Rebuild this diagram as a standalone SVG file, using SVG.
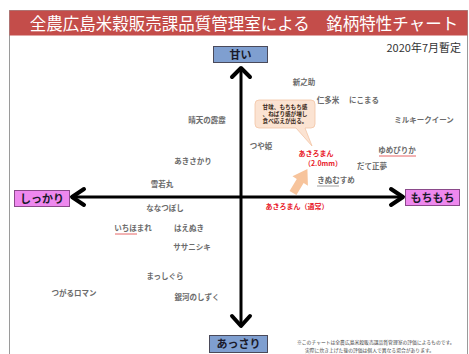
<svg xmlns="http://www.w3.org/2000/svg" width="469" height="354" viewBox="0 0 469 354">
<style>
.lbl{font-family:"Noto Sans CJK JP","Noto Sans",sans-serif;font-size:7.5px;fill:#6b6b6b;font-weight:bold;text-anchor:middle}
.red{font-family:"Noto Sans CJK JP","Noto Sans",sans-serif;font-size:7px;fill:#e8202a;font-weight:bold;text-anchor:middle}
.axt{font-family:"Noto Sans CJK JP","Noto Sans",sans-serif;font-size:11px;fill:#1a1a2a;font-weight:bold;text-anchor:middle}
.ax{stroke:#000;stroke-width:3;fill:none}
.ah{stroke:#000;stroke-width:4;fill:none;stroke-linecap:round;stroke-linejoin:round}
.blue{fill:#7f9fd0;stroke:#4a4a5a;stroke-width:1}
.pink{fill:#ee88ee;stroke:#8a4a8a;stroke-width:1}
.ul{stroke-width:0.8}
</style>
<rect x="0" y="0" width="469" height="354" fill="#fff"/>
<rect x="9.5" y="10.5" width="458" height="350" fill="#fff" stroke="#9a9a9a" stroke-width="1"/>
<g id="title">
<rect x="9.5" y="10.5" width="458" height="25" fill="#c44d4a"/>
<text x="244" y="29.5" font-family="'Noto Sans CJK JP','Noto Sans',sans-serif" font-size="16.5" fill="#fff" text-anchor="middle">全農広島米穀販売課品質管理室による　銘柄特性チャート</text>
</g>
<text id="date" x="461" y="52" font-family="'Noto Sans CJK JP','Noto Sans',sans-serif" font-size="11" fill="#333" text-anchor="end">2020年7月暫定</text>
<g id="connectors">
<line class="ax" x1="241" y1="69" x2="241" y2="325"/>
<line class="ax" x1="73" y1="197" x2="402" y2="197"/>
<polyline class="ah" points="232,77 241,68 250,77"/>
<polyline class="ah" points="232,316 241,326 250,316"/>
<polyline class="ah" points="84,189 72,197 84,205"/>
<polyline class="ah" points="391,189 403,197 391,205"/>
</g>
<g id="amai"><rect class="blue" x="213.5" y="46.5" width="54" height="16"/><text class="axt" x="240.5" y="58.5">甘い</text></g>
<g id="assari"><rect class="blue" x="209.5" y="335.5" width="58" height="17"/><text class="axt" x="238.5" y="348">あっさり</text></g>
<g id="shikkari"><rect class="pink" x="14.5" y="190.5" width="55" height="16"/><text class="axt" x="42" y="202.5">しっかり</text></g>
<g id="mochimochi"><rect class="pink" x="405.5" y="189.5" width="54" height="16"/><text class="axt" x="432.5" y="201.5">もちもち</text></g>
<g id="bubble">
<path d="M259,100 H311 Q315,100 315,104 V124 Q315,128 311,128 H305 L312,146 L296,128 H259 Q255,128 255,124 V104 Q255,100 259,100 Z" fill="#fbe3d2" stroke="#f2c4a4" stroke-width="0.8"/>
<g font-family="'Noto Sans CJK JP','Noto Sans',sans-serif" font-size="5.6" font-weight="bold" fill="#3a2a20" text-anchor="middle">
<text x="285" y="109">甘味、もちもち感</text>
<text x="285" y="116">、ねばり感が増し</text>
<text x="285" y="123">食べ応えが出る。</text>
</g>
</g>
<g id="arrow-orange"><polygon points="-4,0 4,0 4,-14 9,-14 0,-28 -9,-14 -4,-14" fill="#f7c49c" transform="translate(293,193) rotate(31)"/></g>
<g id="n-shinnosuke"><text class="lbl" x="304" y="85">新之助</text></g>
<g id="n-nitamai"><text class="lbl" x="328" y="103">仁多米</text></g>
<g id="n-nikomaru"><text class="lbl" x="364" y="103">にこまる</text></g>
<g id="n-milky"><text class="lbl" x="424" y="123">ミルキークイーン</text></g>
<g id="n-seiten"><text class="lbl" x="207" y="123">晴天の霹靂</text></g>
<g id="n-tsuyahime"><text class="lbl" x="261" y="149">つや姫</text></g>
<g id="n-yumepirika"><text class="lbl" x="397" y="153">ゆめぴりか</text><line class="ul" x1="379" y1="156" x2="416" y2="156" stroke="#e04040"/></g>
<g id="n-akiroman20"><text class="red" x="316" y="156">あきろまん</text><text class="red" x="323" y="166">（2.0mm）</text></g>
<g id="n-datemasayume"><text class="lbl" x="372" y="169">だて正夢</text></g>
<g id="n-kinumusume"><text class="lbl" x="336" y="183">きぬむすめ</text><line class="ul" x1="317" y1="186" x2="339" y2="186" stroke="#888"/></g>
<g id="n-akisakari"><text class="lbl" x="193" y="164">あきさかり</text></g>
<g id="n-yukiwakamaru"><text class="lbl" x="162" y="187">雪若丸</text></g>
<g id="n-nanatsuboshi"><text class="lbl" x="165" y="211">ななつぼし</text></g>
<g id="n-akiroman"><text class="red" x="297" y="209">あきろまん（通常）</text></g>
<g id="n-ichihomare"><text class="lbl" x="133" y="231">いちほまれ</text><line class="ul" x1="115" y1="234" x2="137" y2="234" stroke="#e04040"/></g>
<g id="n-haenuki"><text class="lbl" x="189" y="231">はえぬき</text></g>
<g id="n-sasanishiki"><text class="lbl" x="192" y="250">ササニシキ</text></g>
<g id="n-masshigura"><text class="lbl" x="165" y="279">まっしぐら</text></g>
<g id="n-tsugaru"><text class="lbl" x="74" y="296">つがるロマン</text></g>
<g id="n-gingano"><text class="lbl" x="197" y="300">銀河のしずく</text></g>
<g id="note" font-family="'Noto Sans CJK JP','Noto Sans',sans-serif" font-size="4.8" fill="#444">
<text x="297" y="344">※このチャートは全農広島米穀販売課品質管理室の評価によるものです。</text>
<text x="305" y="352">実際に炊き上げた後の評価は個人で異なる場合があります。</text>
</g>
</svg>
